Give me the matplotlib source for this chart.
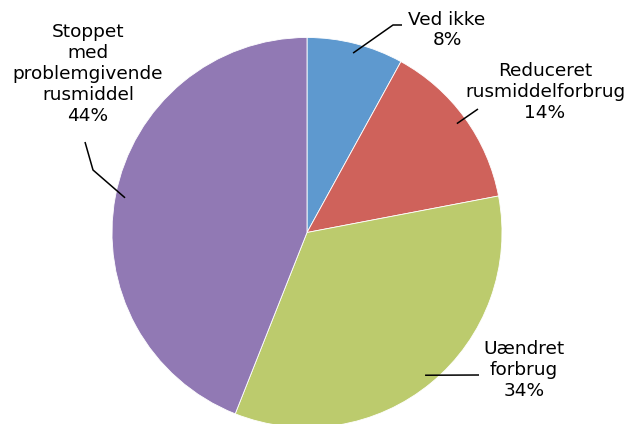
import numpy as np
import matplotlib
matplotlib.use("Agg")
import matplotlib.pyplot as plt

categories = ["Ved ikke", "Reduceret\nrusmiddelforbrug", "Uændret\nforbrug",
              "Stoppet\nmed\nproblemgivende\nrusmiddel"]
values = [8, 14, 34, 44]
colors = ["#5E99CF", "#CF625B", "#BCCB6D", "#9179B4"]

W, H = 629, 424
fig = plt.figure(figsize=(W / 100, H / 100), dpi=100)
ax = fig.add_axes([0, 0, 1, 1])

cx, cy, R = 307, H - 232.5, 195
wedges, _ = ax.pie(values, colors=colors, startangle=90, counterclock=False,
                   center=(cx, cy), radius=R, frame=True,
                   wedgeprops=dict(linewidth=0.6, edgecolor="white"))
ax.set_xlim(0, W)
ax.set_ylim(0, H)
ax.set_aspect("equal")
ax.axis("off")

# label text centres (pixel coords, top-origin) and leader elbows
label_pos = [(447, 30), (545, 92), (524, 370), (88, 74)]
elbows = [[(402, 25), (393, 25)], [(478, 109)], [(479, 375)], [(85, 142), (93, 170)]]

total = sum(values)
cum = 0
for i, (cat, v) in enumerate(zip(categories, values)):
    mid = cum + v / 2
    cum += v
    ang = np.deg2rad(90 - 360 * mid / total)
    px, py = cx + 0.95 * R * np.cos(ang), cy + 0.95 * R * np.sin(ang)
    pts = [(x, H - y) for x, y in elbows[i]] + [(px, py)]
    xs, ys = zip(*pts)
    ax.plot(xs, ys, color="black", lw=1.1, solid_capstyle="butt")
    lx, ly = label_pos[i]
    ax.text(lx, H - ly, f"{cat}\n{v}%", ha="center", va="center",
            fontsize=13.3, family="DejaVu Sans", linespacing=1.2, color="black")

fig.savefig("out.png", dpi=100, facecolor="white")
